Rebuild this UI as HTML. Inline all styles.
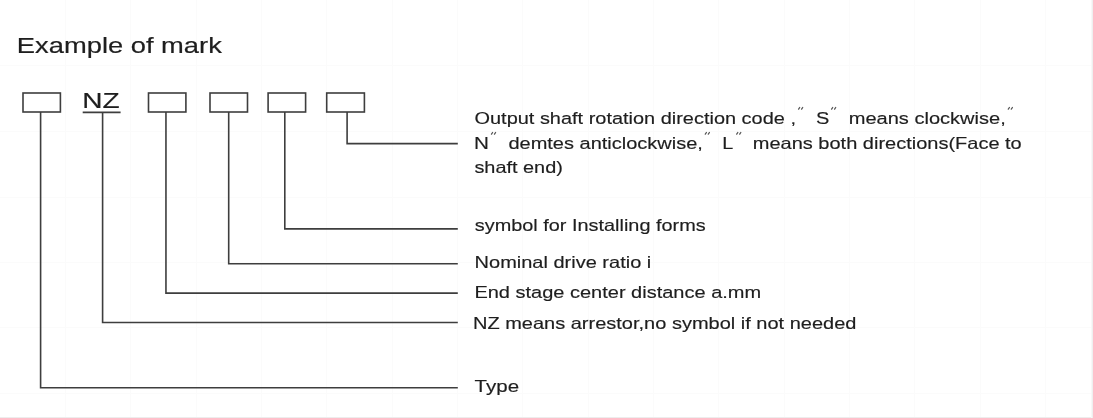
<!DOCTYPE html>
<html><head><meta charset="utf-8"><style>
html,body{margin:0;padding:0;background:#fff;}
body{width:1093px;height:418px;overflow:hidden;position:relative;}
svg{position:absolute;left:0;top:0;}
</style></head><body>
<svg width="1093" height="418" viewBox="0 0 1093 418">
<defs><filter id="bl" x="0" y="0" width="1093" height="418" filterUnits="userSpaceOnUse"><feGaussianBlur stdDeviation="0.0"/></filter></defs>
<g filter="url(#bl)">
<rect x="65" y="0" width="1" height="417" fill="#fbfbfb"/>
<rect x="130" y="0" width="1" height="417" fill="#fbfbfb"/>
<rect x="196" y="0" width="1" height="417" fill="#fbfbfb"/>
<rect x="261" y="0" width="1" height="417" fill="#fbfbfb"/>
<rect x="326" y="0" width="1" height="417" fill="#fbfbfb"/>
<rect x="392" y="0" width="1" height="417" fill="#fbfbfb"/>
<rect x="457" y="0" width="1" height="417" fill="#fbfbfb"/>
<rect x="522" y="0" width="1" height="417" fill="#fbfbfb"/>
<rect x="588" y="0" width="1" height="417" fill="#fbfbfb"/>
<rect x="653" y="0" width="1" height="417" fill="#fbfbfb"/>
<rect x="718" y="0" width="1" height="417" fill="#fbfbfb"/>
<rect x="784" y="0" width="1" height="417" fill="#fbfbfb"/>
<rect x="849" y="0" width="1" height="417" fill="#fbfbfb"/>
<rect x="914" y="0" width="1" height="417" fill="#fbfbfb"/>
<rect x="980" y="0" width="1" height="417" fill="#fbfbfb"/>
<rect x="1045" y="0" width="1" height="417" fill="#fbfbfb"/>
<rect x="0" y="65" width="1092" height="1" fill="#fbfbfb"/>
<rect x="0" y="131" width="1092" height="1" fill="#fbfbfb"/>
<rect x="0" y="197" width="1092" height="1" fill="#fbfbfb"/>
<rect x="0" y="262" width="1092" height="1" fill="#fbfbfb"/>
<rect x="0" y="327" width="1092" height="1" fill="#fbfbfb"/>
<rect x="0" y="393" width="1092" height="1" fill="#fbfbfb"/>
<rect x="0" y="417" width="1093" height="1" fill="#ededed"/>
<rect x="1091" y="0" width="1" height="418" fill="#f8f8f8"/>
<rect x="1092" y="0" width="1" height="418" fill="#efefef"/>
<g fill="none" stroke="#3e3e3e" stroke-width="1.6">
<rect x="23" y="93" width="37.40" height="19"/>
<rect x="148.5" y="93" width="37.40" height="19"/>
<rect x="210" y="93" width="37.50" height="19"/>
<rect x="268.1" y="93" width="37.50" height="19"/>
<rect x="326.7" y="93" width="37.70" height="19"/>
<line x1="82.7" y1="112.4" x2="120.6" y2="112.4"/>
<polyline points="40.6,112 40.6,387.7 457.8,387.7"/>
<polyline points="102.6,112 102.6,322.45 457.8,322.45"/>
<polyline points="165.95,112 165.95,293.1 457.8,293.1"/>
<polyline points="228.7,112 228.7,263.7 457.8,263.7"/>
<polyline points="284.8,112 284.8,228.9 457.8,228.9"/>
<polyline points="347.1,112 347.1,143.65 457.8,143.65"/>
</g>
<g stroke="#555" stroke-width="1.3" stroke-linecap="round">
<line x1="798.60" y1="109.1" x2="799.70" y2="107.5"/>
<line x1="801.60" y1="109.1" x2="802.70" y2="107.5"/>
<line x1="831.60" y1="109.1" x2="832.70" y2="107.5"/>
<line x1="834.60" y1="109.1" x2="835.70" y2="107.5"/>
<line x1="1008.30" y1="109.1" x2="1009.40" y2="107.5"/>
<line x1="1011.30" y1="109.1" x2="1012.40" y2="107.5"/>
<line x1="491.50" y1="134.1" x2="492.60" y2="132.5"/>
<line x1="494.50" y1="134.1" x2="495.60" y2="132.5"/>
<line x1="705.30" y1="134.1" x2="706.40" y2="132.5"/>
<line x1="708.30" y1="134.1" x2="709.40" y2="132.5"/>
<line x1="736.70" y1="134.1" x2="737.80" y2="132.5"/>
<line x1="739.70" y1="134.1" x2="740.80" y2="132.5"/>
</g>
<g fill="#1e1e1e" stroke="#1e1e1e" font-family='"Liberation Sans", sans-serif'>
<text transform="translate(16.87,53.0) scale(0.30374,0.25)" font-size="90.0" stroke-width="0.8">Example of mark</text>
<text transform="translate(82.37,108.3) scale(0.31869,0.25)" font-size="88" stroke-width="0.8">NZ</text>
<text transform="translate(474.49,124.3) scale(0.30227,0.25)" font-size="66.0" stroke-width="0.64">Output shaft rotation direction code ,</text>
<text transform="translate(815.99,124.3) scale(0.30263,0.25)" font-size="66.0" stroke-width="0.64">S</text>
<text transform="translate(848.68,124.3) scale(0.30394,0.25)" font-size="66.0" stroke-width="0.64">means clockwise,</text>
<text transform="translate(474.03,149.2) scale(0.31351,0.25)" font-size="66.0" stroke-width="0.64">N</text>
<text transform="translate(508.39,149.2) scale(0.30332,0.25)" font-size="66.0" stroke-width="0.64">demtes anticlockwise,</text>
<text transform="translate(722.30,149.2) scale(0.30000,0.25)" font-size="66.0" stroke-width="0.64">L</text>
<text transform="translate(752.79,149.2) scale(0.30306,0.25)" font-size="66.0" stroke-width="0.64">means both directions(Face to</text>
<text transform="translate(474.40,173.2) scale(0.30139,0.25)" font-size="66.0" stroke-width="0.64">shaft end)</text>
<text transform="translate(474.80,230.8) scale(0.30131,0.25)" font-size="66.0" stroke-width="0.64">symbol for Installing forms</text>
<text transform="translate(474.59,268.0) scale(0.30296,0.25)" font-size="66.0" stroke-width="0.64">Nominal drive ratio i</text>
<text transform="translate(474.38,297.7) scale(0.30309,0.25)" font-size="66.0" stroke-width="0.64">End stage center distance a.mm</text>
<text transform="translate(472.98,328.5) scale(0.30303,0.25)" font-size="66.0" stroke-width="0.64">NZ means arrestor,no symbol if not needed</text>
<text transform="translate(474.59,391.9) scale(0.31079,0.25)" font-size="66.0" stroke-width="0.64">Type</text>
</g>
</g>
</svg>
</body></html>
